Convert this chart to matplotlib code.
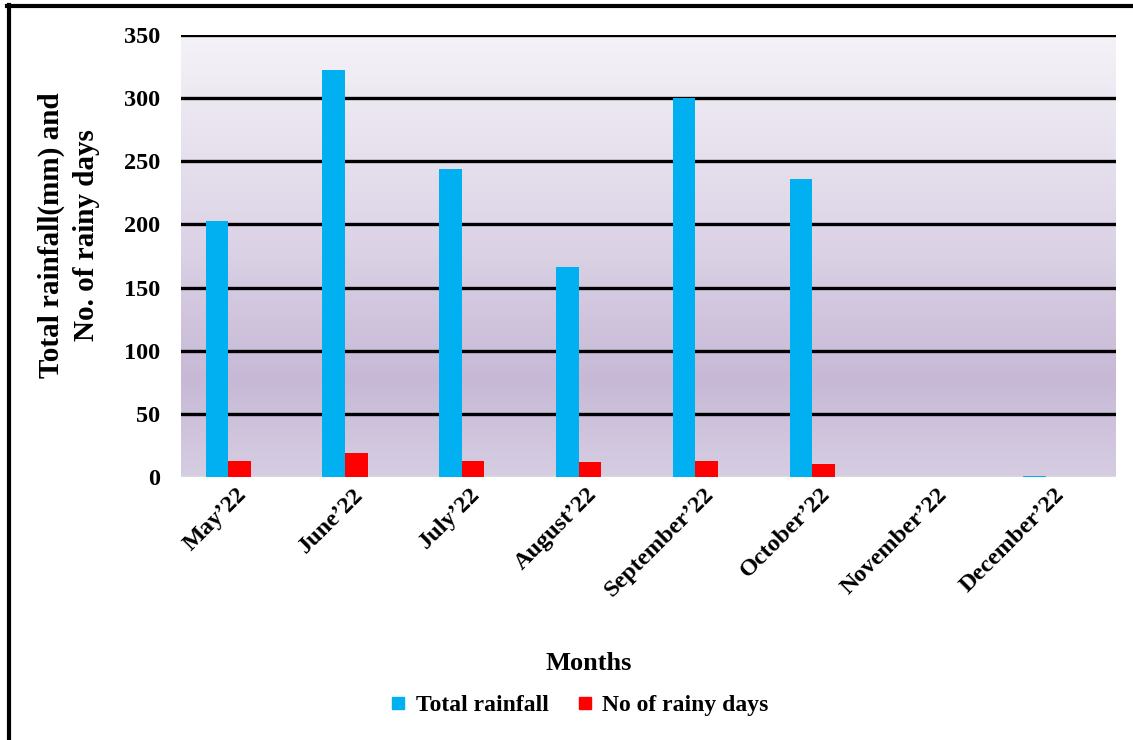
import numpy as np
import matplotlib
matplotlib.use("Agg")
import matplotlib.pyplot as plt
from matplotlib.colors import LinearSegmentedColormap
from matplotlib.lines import Line2D

plt.rcParams['font.family'] = ['Liberation Serif', 'DejaVu Serif']
plt.rcParams['font.weight'] = 'bold'

months = ["May\u201922", "June\u201922", "July\u201922", "August\u201922",
          "September\u201922", "October\u201922", "November\u201922", "December\u201922"]
rainfall = [203, 322, 244, 166, 300, 236, 0, 1]
rainy_days = [13, 19, 13, 12, 13, 10, 0, 0]
yticks = [0, 50, 100, 150, 200, 250, 300, 350]

blue = "#00b0f0"
red = "#ff0000"

fig = plt.figure(figsize=(11.33, 7.4), dpi=100)
ax = fig.add_axes([181 / 1133, 1 - 477 / 740, (1115.7 - 181) / 1133, (477 - 35) / 740])

# purple gradient behind the plot
grad = LinearSegmentedColormap.from_list(
    "bg", [(0.0, "#d6cde2"), (0.22, "#c7b9d6"), (0.55, "#ddd5e7"), (1.0, "#f4f2f7")])
g = np.linspace(0, 1, 256).reshape(-1, 1)
ax.imshow(g, cmap=grad, origin="lower", aspect="auto",
          extent=[-0.5, len(months) - 0.5, 0, 350], zorder=0)

x = np.arange(len(months))
w = 0.193
ax.bar(x - w, rainfall, w, color=blue, zorder=3)
ax.bar(x, rainy_days, w, color=red, zorder=3)

for v in yticks[1:]:
    ax.axhline(v, color="black", lw=2.4, zorder=2)
ax.axhline(0, color="#d9d9d9", lw=2.5, zorder=2)

ax.set_xlim(-0.5, len(months) - 0.5)
ax.set_ylim(0, 350)
ax.set_yticks(yticks)
ax.set_yticklabels([str(v) for v in yticks], fontsize=17.5, fontweight="bold")
ax.set_xticks(x - 0.03)
ax.set_xticklabels(months, rotation=45, ha="right", va="top",
                   rotation_mode="anchor", fontsize=17.5, fontweight="bold")
ax.tick_params(axis="y", length=0, pad=15)
ax.tick_params(axis="x", length=0, pad=5)
for s in ax.spines.values():
    s.set_visible(False)

fig.text(69 / 1133, 1 - 235 / 740, "Total rainfall(mm) and\nNo. of rainy days",
         rotation=90, ha="center", va="center", multialignment="center",
         fontsize=21, fontweight="bold", linespacing=1.35)
fig.text(589 / 1133, 1 - 663 / 740, "Months", ha="center", va="center",
         fontsize=19, fontweight="bold")

handles = [Line2D([], [], ls="none", marker="s", ms=8, color=blue, label="Total rainfall"),
           Line2D([], [], ls="none", marker="s", ms=8, color=red, label="No of rainy days")]
fig.legend(handles=handles, loc="center", bbox_to_anchor=(580 / 1133, 1 - 705 / 740),
           ncol=2, frameon=False, prop={"size": 17, "weight": "bold"},
           handlelength=0.6, handletextpad=0.45, columnspacing=1.2)

# outer frame (top and left edges)
fig.add_artist(Line2D([8.5 / 1133, 8.5 / 1133], [0, 1 - 5 / 740], transform=fig.transFigure,
                      color="black", lw=3))
fig.add_artist(Line2D([7 / 1133, 1], [1 - 5.5 / 740, 1 - 5.5 / 740], transform=fig.transFigure,
                      color="black", lw=3))

fig.savefig("out.png", dpi=100)
